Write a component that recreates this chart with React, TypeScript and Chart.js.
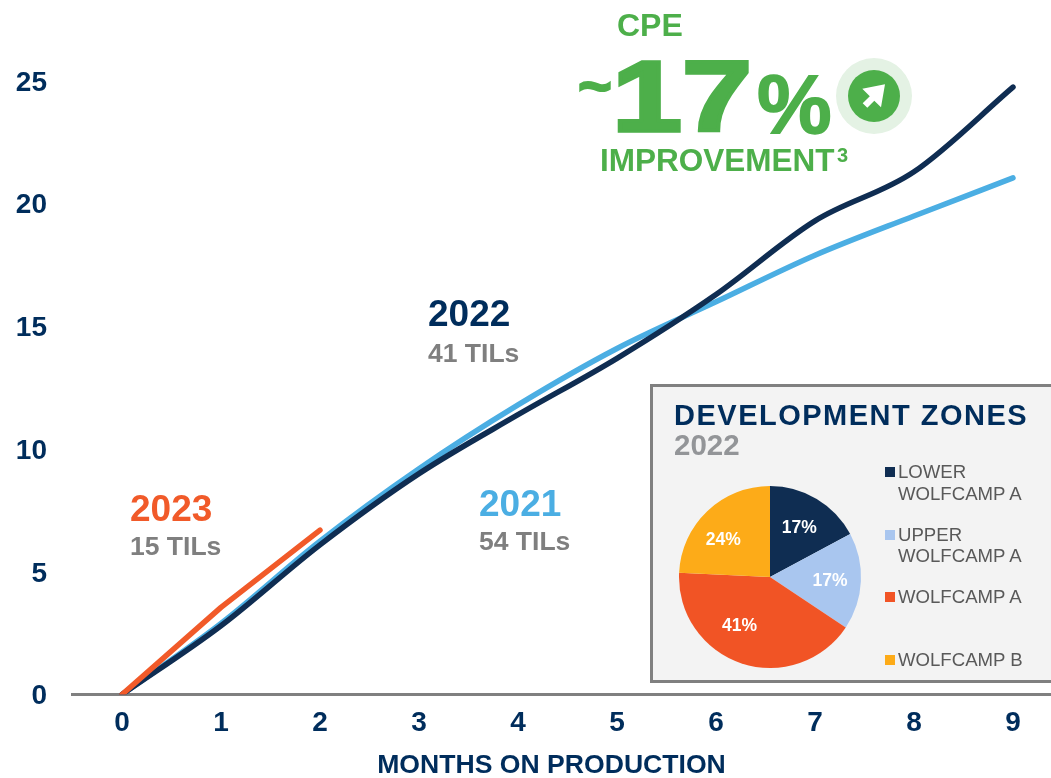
import React, { useEffect, useRef } from "react";
import { Chart, registerables } from "chart.js";

Chart.register(...registerables);

const months = [0, 1, 2, 3, 4, 5, 6, 7, 8, 9];
const series2021 = [0, 2.9, 6.25, 9.2, 11.8, 14.1, 16.0, 17.9, 19.5, 21.05];
const series2022 = [0, 2.8, 6.1, 9.0, 11.4, 13.7, 16.3, 19.3, 21.3, 24.75];
const series2023 = [0, 3.55, 6.7];
const zoneLabels = ["LOWER WOLFCAMP A", "UPPER WOLFCAMP A", "WOLFCAMP A", "WOLFCAMP B"];
const zoneValues = [17, 17, 41, 24];
const zoneColors = ["#0F2D52", "#A9C6EF", "#F15425", "#FDAB18"];

const NAVY = "#002D5C";
const GREEN = "#4DAF4A";
const GRAY = "#7F7F7F";
const FONT = "'Liberation Sans', Arial, sans-serif";

const pts = (arr: number[]) => arr.map((y, i) => ({ x: months[i], y }));

const labelNudge = [[-1, 2], [1, 1], [-12, -7], [-6, 6]];

const pieLabels = {
  id: "pieLabels",
  afterDatasetsDraw(chart: any) {
    const ctx = chart.ctx;
    const meta = chart.getDatasetMeta(0);
    ctx.save();
    ctx.fillStyle = "#fff";
    ctx.font = `bold 17.5px ${FONT}`;
    ctx.textAlign = "center";
    ctx.textBaseline = "middle";
    meta.data.forEach((arc: any, i: number) => {
      const p = arc.getProps(["x", "y", "startAngle", "endAngle", "outerRadius"], true);
      const a = (p.startAngle + p.endAngle) / 2;
      const r = p.outerRadius * 0.65;
      ctx.fillText(
        `${zoneValues[i]}%`,
        p.x + Math.cos(a) * r + labelNudge[i][0],
        p.y + Math.sin(a) * r + labelNudge[i][1]
      );
    });
    ctx.restore();
  },
};

export default function App() {
  const lineRef = useRef<HTMLCanvasElement>(null);
  const pieRef = useRef<HTMLCanvasElement>(null);

  useEffect(() => {
    const common = {
      borderWidth: 5.5,
      borderCapStyle: "round" as const,
      borderJoinStyle: "round" as const,
      pointRadius: 0,
      fill: false,
    };
    const line = new Chart(lineRef.current!, {
      type: "line",
      data: {
        datasets: [
          { ...common, label: "2023", data: pts(series2023), borderColor: "#F15A29", order: 1, tension: 0 },
          { ...common, label: "2022", data: pts(series2022), borderColor: "#0F2D52", order: 2, cubicInterpolationMode: "monotone" },
          { ...common, label: "2021", data: pts(series2021), borderColor: "#4BAEE3", order: 3, cubicInterpolationMode: "monotone" },
        ],
      },
      options: {
        animation: false,
        responsive: false,
        maintainAspectRatio: false,
        layout: { padding: { top: 81, left: 0, right: 0, bottom: 0 } },
        plugins: { legend: { display: false }, tooltip: { enabled: false } },
        scales: {
          x: {
            type: "linear",
            min: -0.5,
            max: 9.384,
            grid: { display: false, drawTicks: false },
            border: { color: "#808080", width: 3 },
            ticks: {
              color: NAVY,
              font: { family: FONT, size: 28, weight: "bold" },
              padding: 12,
              maxRotation: 0,
              autoSkip: false,
            },
            afterBuildTicks: (s: any) => {
              s.ticks = months.map((value) => ({ value }));
            },
            afterFit: (s: any) => {
              s.height = 83.5;
            },
          },
          y: {
            min: 0,
            max: 25,
            grid: { display: false, drawTicks: false },
            border: { display: false },
            ticks: {
              stepSize: 5,
              color: NAVY,
              font: { family: FONT, size: 28, weight: "bold" },
              padding: 25.5,
              labelOffset: 2,
            },
            afterFit: (s: any) => {
              s.width = 72.5;
            },
          },
        },
      },
    } as any);

    const pie = new Chart(pieRef.current!, {
      type: "pie",
      data: {
        labels: zoneLabels,
        datasets: [{ data: zoneValues, backgroundColor: zoneColors, borderWidth: 0 }],
      },
      options: {
        animation: false,
        responsive: false,
        maintainAspectRatio: false,
        layout: { padding: 4 },
        plugins: { legend: { display: false }, tooltip: { enabled: false } },
      },
      plugins: [pieLabels],
    } as any);

    return () => {
      line.destroy();
      pie.destroy();
    };
  }, []);

  const T = (p: any) => <text fontFamily={FONT} fontWeight="bold" {...p} />;
  const L = (p: any) => <text fontFamily={FONT} fontSize={18.6} fill="#595959" x={898} {...p} />;

  return (
    <div style={{ position: "fixed", left: 0, top: 0, width: 1051, height: 778, overflow: "hidden", background: "#fff" }}>
      <canvas ref={lineRef} width={1051} height={778} style={{ position: "absolute", left: 0, top: 0 }} />
      <div
        style={{
          position: "absolute",
          left: 650,
          top: 384,
          width: 420,
          height: 299,
          boxSizing: "border-box",
          background: "#F3F3F3",
          border: "3px solid #808080",
        }}
      />
      <canvas ref={pieRef} width={190} height={190} style={{ position: "absolute", left: 675, top: 482 }} />
      <svg width={1051} height={778} style={{ position: "absolute", left: 0, top: 0 }}>
        <T x={551.5} y={773} fontSize={26.6} fill={NAVY} textAnchor="middle">MONTHS ON PRODUCTION</T>

        <T x={428} y={326} fontSize={37} fill={NAVY}>2022</T>
        <T x={428} y={362} fontSize={26.5} fill={GRAY}>41 TILs</T>
        <T x={130} y={521} fontSize={37} fill="#F15A29">2023</T>
        <T x={130} y={555} fontSize={26.5} fill={GRAY}>15 TILs</T>
        <T x={479} y={516} fontSize={37} fill="#4BAEE3">2021</T>
        <T x={479} y={550} fontSize={26.5} fill={GRAY}>54 TILs</T>

        <T x={617} y={36} fontSize={32} fill={GREEN}>CPE</T>
        <T x={578} y={106} fontSize={58} fill={GREEN} stroke={GREEN} strokeWidth={2}>~</T>
        <T x={612} y={130.5} fontSize={101} fill={GREEN} stroke={GREEN} strokeWidth={3.5} textLength={140} lengthAdjust="spacingAndGlyphs">17</T>
        <T x={757} y={133} fontSize={84} fill={GREEN} stroke={GREEN} strokeWidth={1.5}>%</T>
        <T x={600} y={171} fontSize={31.5} fill={GREEN}>IMPROVEMENT</T>
        <T x={837} y={162} fontSize={20} fill={GREEN}>3</T>

        <circle cx={874} cy={96} r={38} fill="#E4F2E4" />
        <circle cx={874} cy={96} r={26} fill={GREEN} />
        <polygon points="885,84.3 862.3,88.7 869.8,96.2 862.7,103.3 867.3,107.7 874.3,100.7 881,107.3" fill="#fff" />

        <T x={674} y={425} fontSize={29} fill={NAVY} letterSpacing={1.5}>DEVELOPMENT ZONES</T>
        <T x={674} y={455} fontSize={29.5} fill="#939598">2022</T>

        <rect x={885} y={467} width={10} height={10} fill={zoneColors[0]} />
        <L y={478}>LOWER</L>
        <L y={500}>WOLFCAMP A</L>
        <rect x={885} y={530} width={10} height={10} fill={zoneColors[1]} />
        <L y={541}>UPPER</L>
        <L y={562}>WOLFCAMP A</L>
        <rect x={885} y={592} width={10} height={10} fill={zoneColors[2]} />
        <L y={603}>WOLFCAMP A</L>
        <rect x={885} y={655} width={10} height={10} fill={zoneColors[3]} />
        <L y={666}>WOLFCAMP B</L>
      </svg>
    </div>
  );
}
